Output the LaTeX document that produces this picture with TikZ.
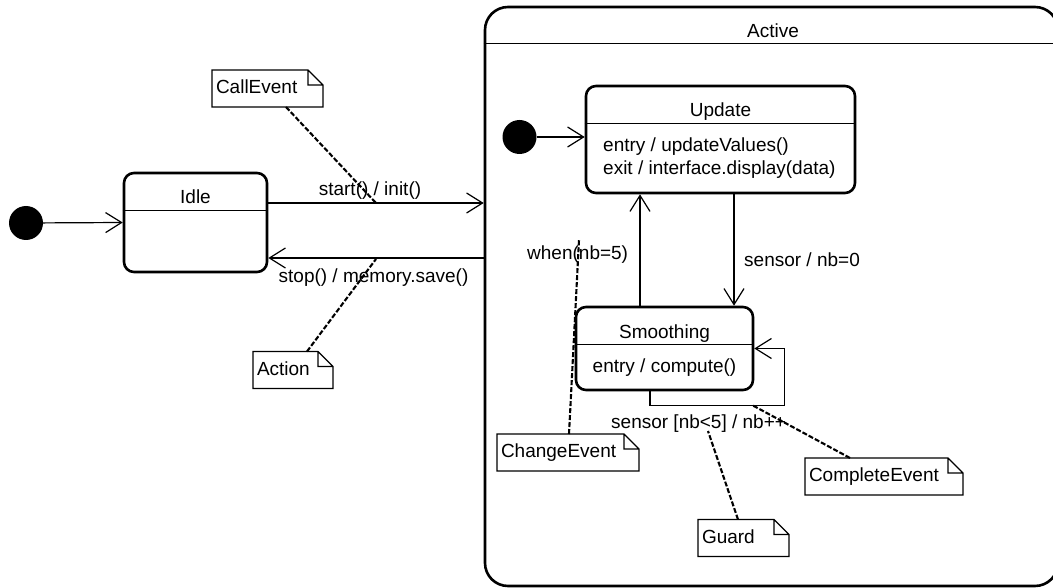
\documentclass[tikz,border=0pt]{standalone}
\usepackage{fontspec}
\setmainfont{Liberation Sans}
\usetikzlibrary{arrows.meta}

\tikzset{
  statebox/.style={draw, line width=2.6pt, rounded corners=10pt, inner sep=0pt},
  divider/.style={line width=1.2pt},
  notebox/.style={inner xsep=4pt, inner ysep=0pt, outer sep=0pt, align=left,
    minimum height=37pt, text height=14pt, text depth=4pt},
  trans/.style={line width=1.2pt, -{Straight Barb[length=16pt,width=20pt]}},
  notelink/.style={line width=2.1pt, dash pattern=on 5pt off 2pt},
  initdot/.style={circle, fill=black, minimum size=34pt, inner sep=0pt},
  lbl/.style={inner sep=0pt},
}

\begin{document}
\begin{tikzpicture}[x=1pt, y=-1pt, font=\fontsize{19pt}{23pt}\selectfont]
  \fill[white] (0,0) rectangle (1053,588);
  \useasboundingbox (0,0) rectangle (1053,588);

  % Idle
  \node[initdot] (init) at (26,223) {};
  \node[statebox, minimum width=143pt, minimum height=99pt] (idle) at (195.5,222.5) {};
  \node[lbl, anchor=base] (idletitle) at (195.5,204) {Idle};
  \draw[divider] ([yshift=-39pt]idle.north west) -- ([yshift=-39pt]idle.north east);
  \draw[trans] (init) -- (idle.west);

  % Active
  \node[statebox, rounded corners=23pt, minimum width=573pt, minimum height=579pt] (active) at (771.5,296.5) {};
  \node[lbl, anchor=base] (activetitle) at (773,38) {Active};
  \draw[divider] ([yshift=-38pt]active.north west) -- ([yshift=-38pt]active.north east);

  % Update
  \node[initdot] (uinit) at (519.5,137) {};
  \node[statebox, minimum width=269pt, minimum height=107pt] (update) at (720.5,139.5) {};
  \node[lbl, anchor=base] (updatetitle) at (720.5,117) {Update};
  \draw[divider] ([yshift=-39pt]update.north west) -- ([yshift=-39pt]update.north east);
  \node[lbl, anchor=base west] (updateentry) at (603,152) {entry / updateValues()};
  \node[lbl, anchor=base west] (updateexit) at (603,175) {exit / interface.display(data)};
  \draw[trans] (uinit) -- (update.west |- uinit);

  % Smoothing
  \node[statebox, minimum width=177pt, minimum height=83pt] (smooth) at (664.5,348.5) {};
  \node[lbl, anchor=base] (smoothtitle) at (664.5,338) {Smoothing};
  \draw[divider] ([yshift=-39pt]smooth.north west) -- ([yshift=-39pt]smooth.north east);
  \node[lbl, anchor=base] (smoothentry) at (664.5,372) {entry / compute()};

  % transitions
  \draw[trans] ([yshift=19.5pt]idle.east) -- ([yshift=19.5pt]active.west |- idle.east);
  \node[lbl, anchor=base] (startlbl) at (370,196) {start() / init()};
  \draw[trans] ([yshift=-35.5pt]active.west |- idle.east) -- ([yshift=-35.5pt]idle.east);
  \node[lbl, anchor=base] (stoplbl) at (373.5,283) {stop() / memory.save()};
  \draw[trans] ([xshift=13.5pt]update.south) -- ([xshift=13.5pt]update.south |- smooth.north);
  \node[lbl, anchor=base west] (sensorlbl) at (744,267) {sensor / nb=0};
  \draw[trans] ([xshift=-24.5pt]smooth.north) -- ([xshift=-24.5pt]smooth.north |- update.south);
  \node[lbl, anchor=base west] (whenlbl) at (527,260) {when(nb=5)};
  \draw[trans] ([xshift=-14.5pt]smooth.south) -- ++(0,14) -| ([xshift=30pt]smooth.east) -- (smooth.east);
  \node[lbl, anchor=base west] (looplbl) at (611,428) {sensor [nb<5] / nb++};

  % notes
  \node[notebox, text width=103pt] (callnote) at (267.5,88.5) {CallEvent};
  \node[notebox, text width=72pt] (actionnote) at (293,370) {Action};
  \node[notebox, text width=134pt] (changenote) at (568,452.5) {ChangeEvent};
  \node[notebox, text width=83pt] (guardnote) at (743.5,538) {Guard};
  \node[notebox, text width=150pt] (completenote) at (884,476.5) {CompleteEvent};
  \foreach \n in {callnote,actionnote,changenote,guardnote,completenote}
    \draw[line width=1.2pt] (\n.north west) -- ([xshift=-15pt]\n.north east)
      -- ([yshift=-15pt]\n.north east) |- (\n.south west) -- cycle
      ([xshift=-15pt]\n.north east) |- ([yshift=-15pt]\n.north east);

  \coordinate (callpt) at (376,203);
  \coordinate (actionpt) at (376,259);
  \coordinate (changept) at (579,240);
  \coordinate (guardpt) at (708,431);
  \coordinate (completept) at (752,405);
  \draw[notelink] ([xshift=18.5pt]callnote.south) -- (callpt);
  \draw[notelink] ([xshift=14pt]actionnote.north) -- (actionpt);
  \draw[notelink] ([xshift=1pt]changenote.north) -- (changept);
  \draw[notelink] ([xshift=-5.5pt]guardnote.north) -- (guardpt);
  \draw[notelink] ([xshift=-34pt]completenote.north) -- (completept);
\end{tikzpicture}
\end{document}
